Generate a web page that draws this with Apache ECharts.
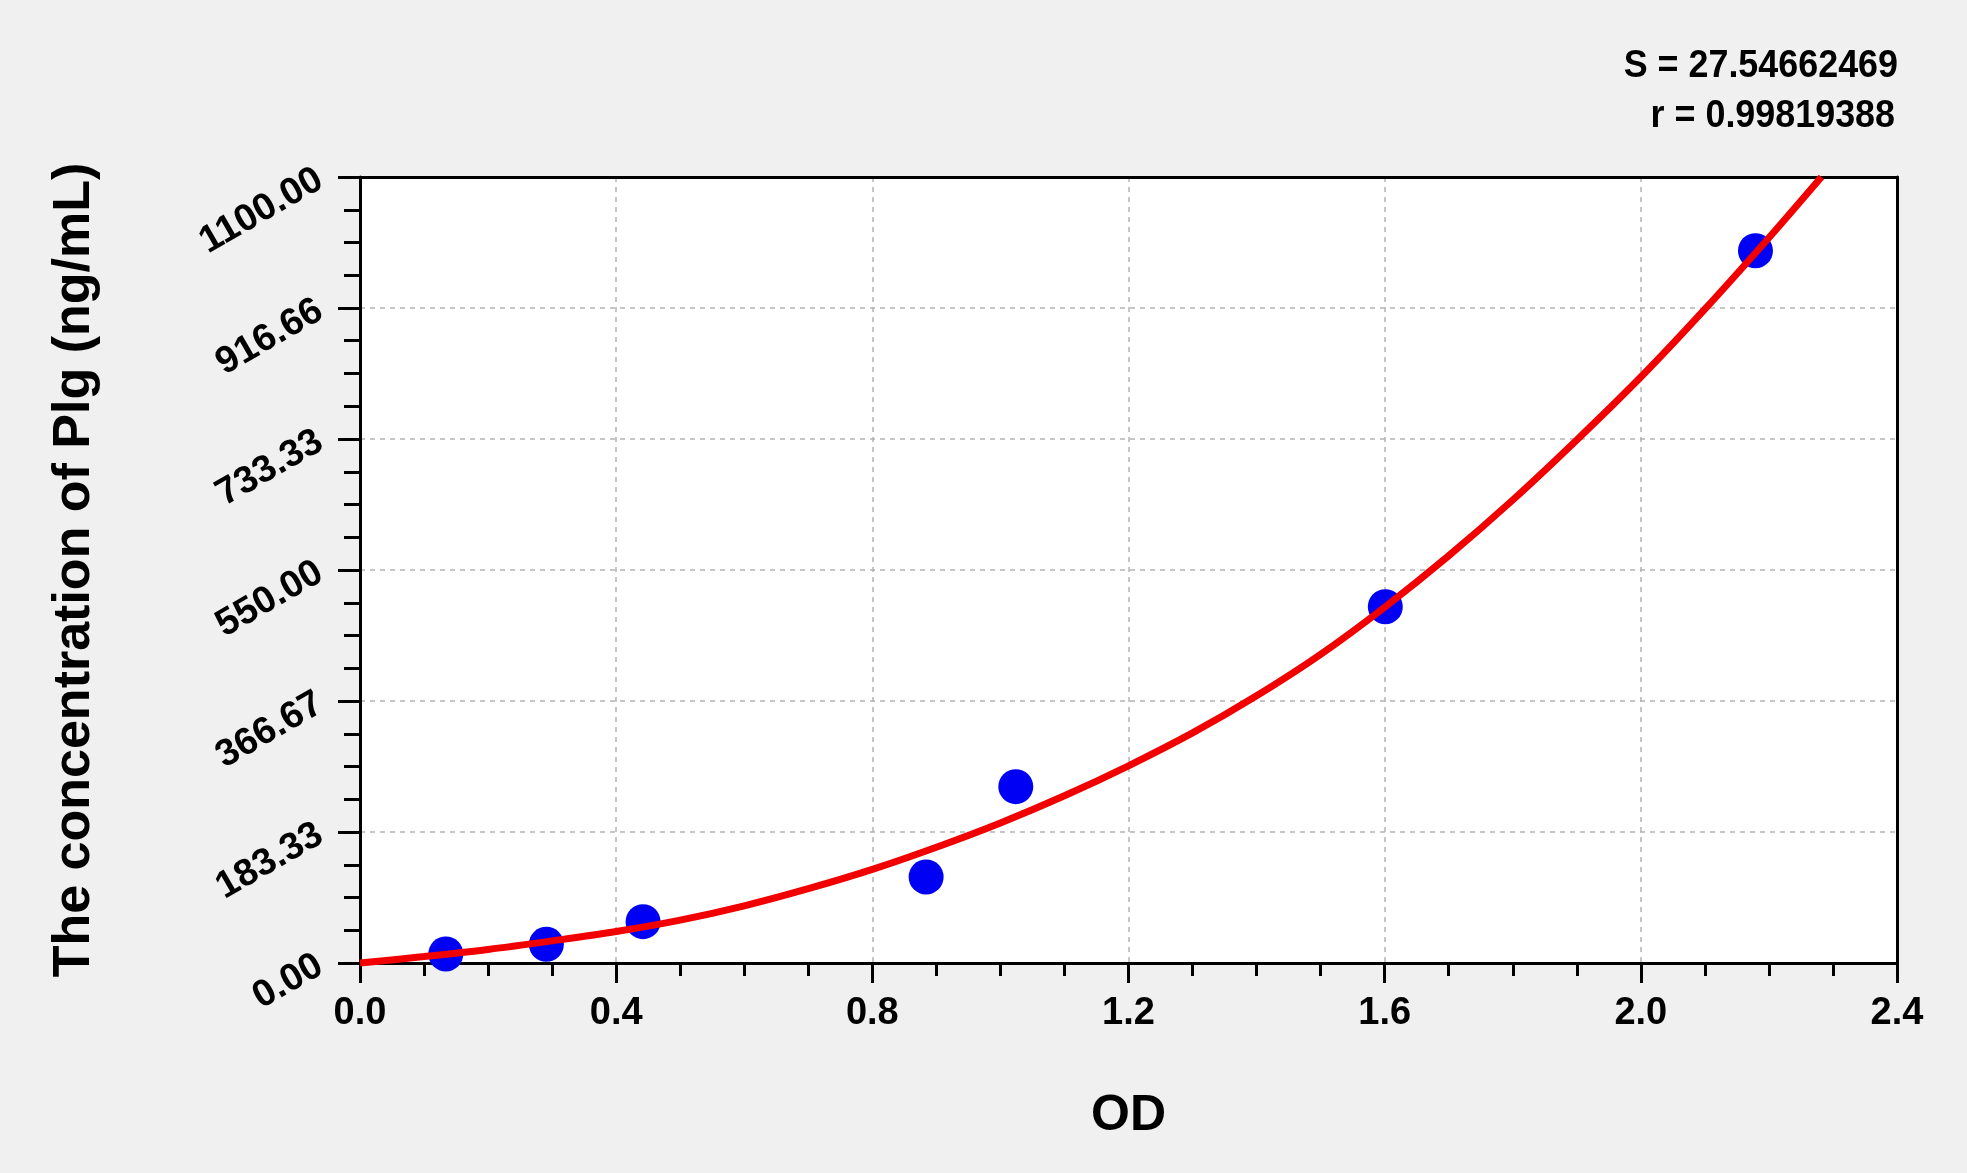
<!DOCTYPE html>
<html>
<head>
<meta charset="utf-8">
<script src="https://cdn.jsdelivr.net/npm/echarts@6/dist/echarts.min.js"></script>
<style>
html,body{margin:0;padding:0;background:#f0f0f0;}
#chart{width:1967px;height:1173px;}
</style>
</head>
<body>
<div id="chart"></div>
<script>
// Measured standards (OD, concentration ng/mL)
const pointOD   = [0.134, 0.291, 0.442, 0.884, 1.024, 1.601, 2.179];
const pointConc = [12.6, 26.2, 57.8, 120.4, 246.8, 498.6, 996.8];

// Fitted curve (OD, concentration)
const curveOD   = [0.00, 0.10, 0.20, 0.30, 0.40, 0.50, 0.60, 0.70, 0.80, 0.90, 1.00, 1.10, 1.20, 1.30, 1.40, 1.50, 1.60, 1.70, 1.80, 1.90, 2.00, 2.10, 2.20, 2.282];
const curveConc = [0, 9, 19, 31, 44, 60, 80, 104, 131, 162, 196, 234, 276, 322, 374, 432, 498, 570, 648, 732, 820, 915, 1015, 1100];

// Axis tick labels
const yTickLabels = ['0.00', '183.33', '366.67', '550.00', '733.33', '916.66', '1100.00'];
const xTickLabels = ['0.0', '0.4', '0.8', '1.2', '1.6', '2.0', '2.4'];

const statS = 'S = 27.54662469';
const statR = 'r = 0.99819388';
const xName = 'OD';
const yName = 'The concentration of Plg (ng/mL)';

const FONT = "'Liberation Sans', Arial, sans-serif";
const yMax = 1100, yInt = yMax / 6;

const borderAxis = {
  type: 'value', axisLine: { show: true, onZero: false, lineStyle: { color: '#000', width: 3 } },
  axisTick: { show: false }, axisLabel: { show: false }, splitLine: { show: false }
};

const chart = echarts.init(document.getElementById('chart'));
chart.setOption({
  backgroundColor: '#f0f0f0',
  animation: false,
  grid: {
    left: 360, right: 70, top: 177, bottom: 210,
    show: true, backgroundColor: '#ffffff', borderWidth: 0
  },
  xAxis: [{
    type: 'value', min: 0, max: 2.4, interval: 0.4,
    name: xName, nameLocation: 'middle', nameGap: 128,
    nameTextStyle: { fontFamily: FONT, fontWeight: 'bold', fontSize: 50, color: '#000' },
    axisLine: { show: true, onZero: false, lineStyle: { color: '#000', width: 3 } },
    axisTick: { show: true, inside: false, length: 20, lineStyle: { color: '#000', width: 3 } },
    minorTick: { show: true, splitNumber: 4, length: 13, lineStyle: { color: '#000', width: 3 } },
    axisLabel: {
      margin: 32, fontFamily: FONT, fontWeight: 'bold', fontSize: 38, color: '#000',
      formatter: v => xTickLabels[Math.round(v / 0.4)] || ''
    },
    splitLine: { show: true, showMinLine: false, showMaxLine: false, lineStyle: { color: '#b4b4b4', width: 1.5, type: [5, 5] } }
  }, Object.assign({ position: 'top', min: 0, max: 2.4 }, borderAxis)],
  yAxis: [{
    type: 'value', min: 0, max: yMax, interval: yInt,
    name: yName, nameLocation: 'middle', nameGap: 259,
    nameTextStyle: { fontFamily: FONT, fontWeight: 'bold', fontSize: 52, color: '#000' },
    axisLine: { show: true, onZero: false, lineStyle: { color: '#000', width: 3 } },
    axisTick: { show: true, inside: false, length: 22, lineStyle: { color: '#000', width: 3 } },
    minorTick: { show: true, splitNumber: 4, length: 16, lineStyle: { color: '#000', width: 3 } },
    axisLabel: {
      margin: 40, rotate: 30, fontFamily: FONT, fontWeight: 'bold', fontSize: 38, color: '#000',
      formatter: v => yTickLabels[Math.round(v / yInt)] || ''
    },
    splitLine: { show: true, showMinLine: false, showMaxLine: false, lineStyle: { color: '#b4b4b4', width: 1.5, type: [5, 5] } }
  }, Object.assign({ position: 'right', min: 0, max: yMax }, borderAxis)],
  graphic: [
    { type: 'text', x: 1898, y: 47, scaleX: 0.92, style: { text: statS, font: "bold 39px 'Liberation Sans', Arial, sans-serif", fill: '#000', textAlign: 'right', textVerticalAlign: 'top' } },
    { type: 'text', x: 1895, y: 97, scaleX: 0.92, style: { text: statR, font: "bold 39px 'Liberation Sans', Arial, sans-serif", fill: '#000', textAlign: 'right', textVerticalAlign: 'top' } }
  ],
  series: [
    {
      type: 'scatter', symbol: 'circle', symbolSize: 35,
      itemStyle: { color: '#0000f5', opacity: 1 },
      data: pointOD.map((x, i) => [x, pointConc[i]]), z: 2
    },
    {
      type: 'line', smooth: 0.3, showSymbol: false, symbol: 'none',
      lineStyle: { color: '#f20000', width: 7 },
      data: curveOD.map((x, i) => [x, curveConc[i]]), z: 3, clip: false
    }
  ]
});
</script>
</body>
</html>
